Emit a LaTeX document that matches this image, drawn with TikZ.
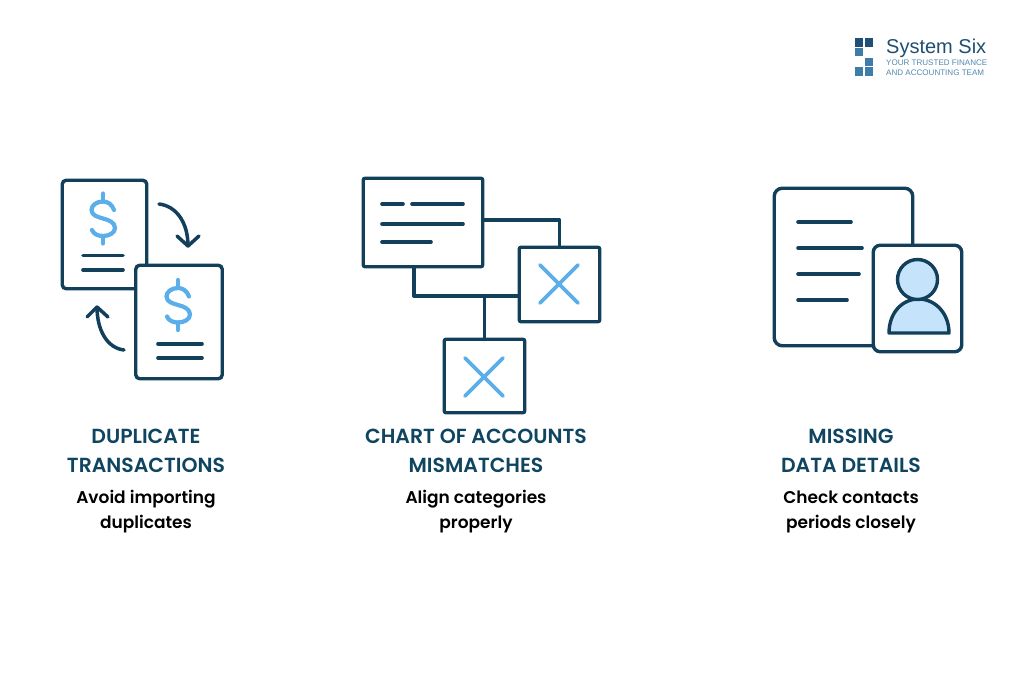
\documentclass[tikz,border=0pt]{standalone}
\usepackage{fontspec}
\setmainfont{Poppins}[BoldFont={Poppins SemiBold}]
\newfontfamily\logofont{Liberation Sans}
\definecolor{ink}{HTML}{123F5A}
\definecolor{head}{HTML}{0F4560}
\definecolor{sky}{HTML}{5AAEEA}
\definecolor{pale}{HTML}{C5E3FB}
\definecolor{logodark}{HTML}{1F4E79}
\definecolor{logomid}{HTML}{3F7CA8}
\definecolor{logotext}{HTML}{1E4E70}
\definecolor{logosub}{HTML}{5088AD}
\tikzset{
  panel/.style={draw=ink,line width=3.4pt,fill=white,rounded corners=4pt,inner sep=0pt,outer sep=0pt},
  sqpanel/.style={panel,rounded corners=2pt},
  rule/.style={draw=ink,line width=3.6pt,line cap=round},
  wire/.style={draw=ink,line width=3.4pt,line join=round},
  accent/.style={draw=sky,line width=4.2pt,line cap=round,line join=round},
  turn/.style={draw=ink,line width=3.5pt,line cap=round,line join=round},
  heading/.style={anchor=base,font=\fontsize{20.4}{22}\bfseries,text=head,inner sep=0pt},
  blurb/.style={anchor=base,font=\fontsize{17}{18}\bfseries,text=black,inner sep=0pt},
  tile/.style={fill=#1,draw=none},
  brand/.style={anchor=base west,inner sep=0pt,font=\logofont\fontsize{20}{20}\selectfont,text=logotext},
  tag/.style={anchor=base west,inner sep=0pt,font=\logofont\fontsize{8.05}{9}\selectfont,text=logosub}
}
\newcommand{\dollarsign}[2]{%
  \begin{scope}[shift={(#1,#2)}]
    \draw[accent] (11,-8.5) .. controls (9,-14) and (5,-17) .. (0,-17) .. controls (-6,-17) and (-11.5,-13.5) .. (-11.5,-8.5) .. controls (-11.5,-3) and (-5,-1.5) .. (0,0) .. controls (6,1.5) and (12,4) .. (12,9.5) .. controls (12,14.5) and (6,17.5) .. (0,17.5) .. controls (-5,17.5) and (-9.5,15.5) .. (-11,11.5);
    \draw[accent] (0,-25) -- (0,-17) (0,17.5) -- (0,25);
  \end{scope}}
\newcommand{\crossmark}[2]{%
  \draw[accent,line width=3.8pt] (#1-19,#2-19) -- (#1+19,#2+19) (#1-19,#2+19) -- (#1+19,#2-19);}
\begin{document}
\begin{tikzpicture}[x=1pt,y=-1pt]
\useasboundingbox (0,0) rectangle (1024,683);
% first icon
\node[panel,minimum width=84.5pt,minimum height=108.5pt] (docA) at (104.5,234.5) {};
\dollarsign{103}{218.5}
\draw[rule] (83,255.5) -- (123,255.5) (83,270) -- (123,270);
\node[panel,minimum width=86.5pt,minimum height=113.5pt] (docB) at (179,322) {};
\dollarsign{178}{305}
\draw[rule] (158,344) -- (202,344) (158,358) -- (202,358);
\coordinate (turnAs) at (159,204);
\coordinate (turnAe) at (188,246);
\coordinate (turnBs) at (124,350);
\coordinate (turnBe) at (97,307);
\draw[turn] (turnAs) .. controls (176,206) and (188,222) .. (turnAe);
\draw[turn] (177,236) -- (turnAe) -- (199,236);
\draw[turn] (turnBs) .. controls (107,348) and (97,330) .. (turnBe);
\draw[turn] (87,317) -- (turnBe) -- (108,317);
% second icon
\node[sqpanel,minimum width=119.5pt,minimum height=88.5pt] (sheet) at (423,222.5) {};
\node[sqpanel,minimum width=80.5pt,minimum height=74.5pt] (boxA) at (559.5,284.5) {};
\node[sqpanel,minimum width=80.5pt,minimum height=73.5pt] (boxB) at (484.5,376) {};
\coordinate (elbowA) at (boxA.north |- 0,220);
\coordinate (elbowB) at (414,296);
\coordinate (forkB) at (boxB.north |- elbowB);
\draw[wire] (sheet.east |- elbowA) -- (elbowA) -- (boxA.north);
\draw[wire] (sheet.south -| elbowB) -- (elbowB) -- (boxA.west |- elbowB);
\draw[wire] (forkB) -- (boxB.north);
\draw[rule] (382,204) -- (403,204) (412,204) -- (463,204) (382,224) -- (463,224) (382,242) -- (431,242);
\crossmark{559}{284}
\crossmark{484}{377}
% third icon
\node[panel,rounded corners=8pt,minimum width=138.5pt,minimum height=157.5pt] (form) at (843.5,267) {};
\draw[rule] (798,222) -- (851,222) (798,248) -- (862,248) (798,274) -- (859,274) (798,300) -- (847,300);
\node[panel,rounded corners=7pt,minimum width=88.5pt,minimum height=106.5pt] (card) at (917.5,298.5) {};
\draw[draw=ink,line width=3.4pt,fill=pale,line join=round] (889,333) .. controls (889,313) and (902,299) .. (918.5,299) .. controls (935,299) and (949,313) .. (949,333) -- cycle;
\node[circle,draw=ink,line width=3.4pt,fill=pale,minimum size=40pt,inner sep=0pt,outer sep=0pt] (face) at (917.5,279.5) {};
% captions
\node[heading] (h1a) at (146,443) {DUPLICATE};
\node[heading] (h1b) at (146,472) {TRANSACTIONS};
\node[blurb] (b1a) at (146,503) {Avoid importing};
\node[blurb] (b1b) at (146,528) {duplicates};
\node[heading] (h2a) at (476,443) {CHART OF ACCOUNTS};
\node[heading] (h2b) at (476,472) {MISMATCHES};
\node[blurb] (b2a) at (476,503) {Align categories};
\node[blurb] (b2b) at (476,528) {properly};
\node[heading] (h3a) at (851,443) {MISSING};
\node[heading] (h3b) at (851,472) {DATA DETAILS};
\node[blurb] (b3a) at (851,503) {Check contacts};
\node[blurb] (b3b) at (851,528) {periods closely};
% logo
\fill[tile=logodark] (855,38) rectangle (863.4,46.6);
\fill[tile=logodark] (864.6,38) rectangle (873,46.6);
\fill[tile=logomid] (855,47.6) rectangle (863.4,55.5);
\fill[tile=logomid] (864.6,58) rectangle (873,66);
\fill[tile=logomid] (855,67) rectangle (863.4,75.5);
\fill[tile=logomid] (864.6,67) rectangle (873,75.5);
\node[brand] (logoname) at (886,53) {System Six};
\node[tag] (logotagA) at (886,65) {YOUR TRUSTED FINANCE};
\node[tag] (logotagB) at (886,75.5) {AND ACCOUNTING TEAM};
\end{tikzpicture}
\end{document}
